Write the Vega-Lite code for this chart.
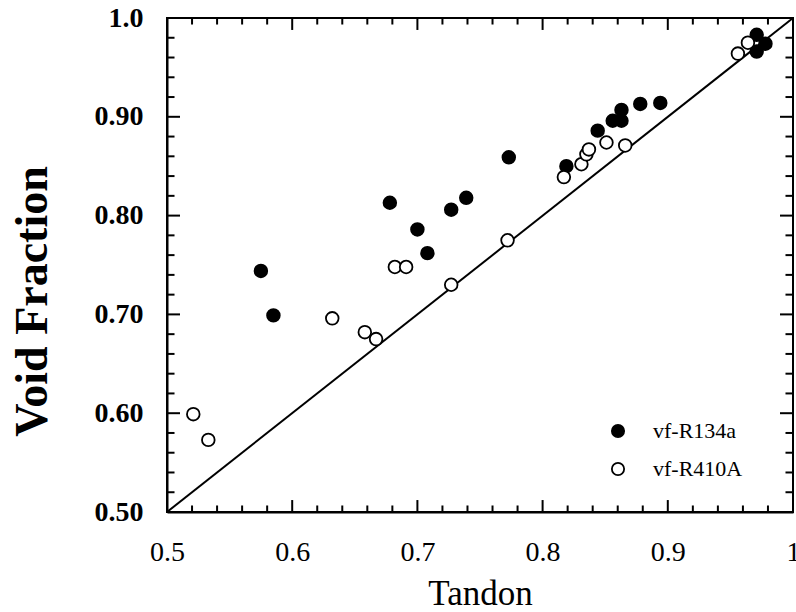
{
  "$schema": "https://vega.github.io/schema/vega-lite/v6.json",
  "width": 626,
  "height": 494,
  "autosize": {"type": "none"},
  "padding": {"left": 167, "top": 18, "right": 3, "bottom": 100},
  "background": "white",
  "config": {
    "font": "Liberation Serif",
    "view": {"stroke": "black", "strokeWidth": 2},
    "axis": {"grid": false, "domainColor": "black", "domainWidth": 2, "labelColor": "black", "titleColor": "black"}
  },
  "datasets": {
    "diag": [{"t": 0.5, "v": 0.5}, {"t": 1.0, "v": 1.0}],
    "major": [{"val": 0.5}, {"val": 0.6}, {"val": 0.7}, {"val": 0.8}, {"val": 0.9}, {"val": 1.0}],
    "minor": [{"val": 0.52}, {"val": 0.54}, {"val": 0.56}, {"val": 0.58}, {"val": 0.62}, {"val": 0.64}, {"val": 0.66}, {"val": 0.68}, {"val": 0.72}, {"val": 0.74}, {"val": 0.76}, {"val": 0.78}, {"val": 0.82}, {"val": 0.84}, {"val": 0.86}, {"val": 0.88}, {"val": 0.92}, {"val": 0.94}, {"val": 0.96}, {"val": 0.98}],
    "pts": [
      {"series": "vf-R134a", "tandon": 0.575, "vf": 0.744},
      {"series": "vf-R134a", "tandon": 0.585, "vf": 0.699},
      {"series": "vf-R134a", "tandon": 0.678, "vf": 0.813},
      {"series": "vf-R134a", "tandon": 0.700, "vf": 0.786},
      {"series": "vf-R134a", "tandon": 0.708, "vf": 0.762},
      {"series": "vf-R134a", "tandon": 0.727, "vf": 0.806},
      {"series": "vf-R134a", "tandon": 0.739, "vf": 0.818},
      {"series": "vf-R134a", "tandon": 0.773, "vf": 0.859},
      {"series": "vf-R134a", "tandon": 0.819, "vf": 0.850},
      {"series": "vf-R134a", "tandon": 0.844, "vf": 0.886},
      {"series": "vf-R134a", "tandon": 0.856, "vf": 0.896},
      {"series": "vf-R134a", "tandon": 0.863, "vf": 0.896},
      {"series": "vf-R134a", "tandon": 0.863, "vf": 0.907},
      {"series": "vf-R134a", "tandon": 0.878, "vf": 0.913},
      {"series": "vf-R134a", "tandon": 0.894, "vf": 0.914},
      {"series": "vf-R134a", "tandon": 0.971, "vf": 0.983},
      {"series": "vf-R134a", "tandon": 0.978, "vf": 0.974},
      {"series": "vf-R134a", "tandon": 0.971, "vf": 0.966},
      {"series": "vf-R410A", "tandon": 0.521, "vf": 0.599},
      {"series": "vf-R410A", "tandon": 0.533, "vf": 0.573},
      {"series": "vf-R410A", "tandon": 0.632, "vf": 0.696},
      {"series": "vf-R410A", "tandon": 0.658, "vf": 0.682},
      {"series": "vf-R410A", "tandon": 0.667, "vf": 0.675},
      {"series": "vf-R410A", "tandon": 0.682, "vf": 0.748},
      {"series": "vf-R410A", "tandon": 0.691, "vf": 0.748},
      {"series": "vf-R410A", "tandon": 0.727, "vf": 0.730},
      {"series": "vf-R410A", "tandon": 0.772, "vf": 0.775},
      {"series": "vf-R410A", "tandon": 0.817, "vf": 0.839},
      {"series": "vf-R410A", "tandon": 0.831, "vf": 0.852},
      {"series": "vf-R410A", "tandon": 0.835, "vf": 0.862},
      {"series": "vf-R410A", "tandon": 0.837, "vf": 0.867},
      {"series": "vf-R410A", "tandon": 0.851, "vf": 0.874},
      {"series": "vf-R410A", "tandon": 0.866, "vf": 0.871},
      {"series": "vf-R410A", "tandon": 0.956, "vf": 0.964},
      {"series": "vf-R410A", "tandon": 0.964, "vf": 0.975}
    ]
  },
  "layer": [
    {
      "data": {"name": "diag"},
      "mark": {"type": "line", "color": "black", "strokeWidth": 2},
      "encoding": {
        "x": {
          "field": "t", "type": "quantitative",
          "scale": {"domain": [0.5, 1.0], "nice": false, "zero": false},
          "axis": {
            "orient": "bottom",
            "title": "Tandon",
            "titleFont": "Liberation Serif",
            "titleFontSize": 35,
            "titleFontWeight": "normal",
            "titlePadding": 10,
            "tickCount": 5,
            "labelExpr": "datum.value == 1 ? '1\u00a0' : format(datum.value, '.1~f')",
            "labelFont": "Liberation Serif",
            "labelFontSize": 28,
            "labelOverlap": false,
            "labelBound": false,
            "labelFlush": false,
            "ticks": false,
            "labelPadding": 26
          }
        },
        "y": {
          "field": "v", "type": "quantitative",
          "scale": {"domain": [0.5, 1.0], "nice": false, "zero": false},
          "axis": {
            "orient": "left",
            "title": "Void Fraction",
            "titleFont": "Liberation Serif",
            "titleFontSize": 46,
            "titleFontWeight": "bold",
            "titleAngle": 270,
            "titleAlign": "center",
            "titleBaseline": "alphabetic",
            "titleX": -121,
            "titleY": 283,
            "tickCount": 5,
            "labelExpr": "datum.value == 1 ? '1.0' : format(datum.value, '.2f')",
            "labelFont": "Liberation Serif",
            "labelFontSize": 28,
            "labelFontWeight": "bold",
            "labelOverlap": false,
            "labelBound": false,
            "labelFlush": false,
            "ticks": false,
            "labelPadding": 24
          }
        }
      }
    },
    {
      "data": {"name": "major"},
      "mark": {"type": "rule", "color": "black", "strokeWidth": 2},
      "encoding": {
        "x": {"field": "val", "type": "quantitative", "axis": null},
        "y": {"datum": 0.5, "type": "quantitative", "axis": null},
        "y2": {"datum": 0.5121}
      }
    },
    {
      "data": {"name": "major"},
      "mark": {"type": "rule", "color": "black", "strokeWidth": 2},
      "encoding": {
        "x": {"field": "val", "type": "quantitative", "axis": null},
        "y": {"datum": 1.0, "type": "quantitative", "axis": null},
        "y2": {"datum": 0.9879}
      }
    },
    {
      "data": {"name": "minor"},
      "mark": {"type": "rule", "color": "black", "strokeWidth": 2},
      "encoding": {
        "x": {"field": "val", "type": "quantitative", "axis": null},
        "y": {"datum": 0.5, "type": "quantitative", "axis": null},
        "y2": {"datum": 0.5066}
      }
    },
    {
      "data": {"name": "minor"},
      "mark": {"type": "rule", "color": "black", "strokeWidth": 2},
      "encoding": {
        "x": {"field": "val", "type": "quantitative", "axis": null},
        "y": {"datum": 1.0, "type": "quantitative", "axis": null},
        "y2": {"datum": 0.9934}
      }
    },
    {
      "data": {"name": "major"},
      "mark": {"type": "rule", "color": "black", "strokeWidth": 2},
      "encoding": {
        "y": {"field": "val", "type": "quantitative", "axis": null},
        "x": {"datum": 0.5, "type": "quantitative", "axis": null},
        "x2": {"datum": 0.5104}
      }
    },
    {
      "data": {"name": "major"},
      "mark": {"type": "rule", "color": "black", "strokeWidth": 2},
      "encoding": {
        "y": {"field": "val", "type": "quantitative", "axis": null},
        "x": {"datum": 1.0, "type": "quantitative", "axis": null},
        "x2": {"datum": 0.9896}
      }
    },
    {
      "data": {"name": "minor"},
      "mark": {"type": "rule", "color": "black", "strokeWidth": 2},
      "encoding": {
        "y": {"field": "val", "type": "quantitative", "axis": null},
        "x": {"datum": 0.5, "type": "quantitative", "axis": null},
        "x2": {"datum": 0.506}
      }
    },
    {
      "data": {"name": "minor"},
      "mark": {"type": "rule", "color": "black", "strokeWidth": 2},
      "encoding": {
        "y": {"field": "val", "type": "quantitative", "axis": null},
        "x": {"datum": 1.0, "type": "quantitative", "axis": null},
        "x2": {"datum": 0.994}
      }
    },
    {
      "data": {"name": "pts"},
      "mark": {"type": "point", "shape": "circle", "filled": true, "stroke": "black", "strokeWidth": 1.8, "size": 160, "opacity": 1},
      "encoding": {
        "x": {"field": "tandon", "type": "quantitative", "axis": null},
        "y": {"field": "vf", "type": "quantitative", "axis": null},
        "fill": {
          "field": "series", "type": "nominal",
          "scale": {"domain": ["vf-R134a", "vf-R410A"], "range": ["black", "white"]},
          "legend": {
            "orient": "none",
            "legendX": 440,
            "legendY": 402,
            "title": null,
            "symbolType": "circle",
            "symbolSize": 150,
            "symbolStrokeColor": "black",
            "symbolStrokeWidth": 1.8,
            "labelFont": "Liberation Serif",
            "labelFontSize": 22,
            "labelColor": "black",
            "labelOffset": 24,
            "rowPadding": 16
          }
        }
      }
    }
  ],
  "resolve": {"axis": {"x": "independent", "y": "independent"}}
}
